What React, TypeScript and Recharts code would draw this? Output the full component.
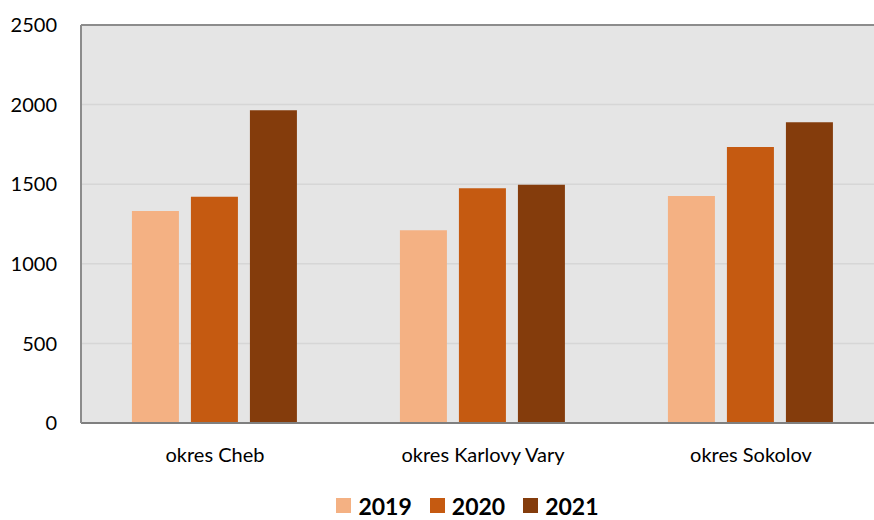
import React from 'react';
import { BarChart, Bar, XAxis, YAxis, CartesianGrid, Legend, ReferenceLine } from 'recharts';

const districts = ['okres Cheb', 'okres Karlovy Vary', 'okres Sokolov'];
const values2019 = [1332, 1210, 1426];
const values2020 = [1421, 1474, 1734];
const values2021 = [1964, 1497, 1889];
const yTicks = [0, 500, 1000, 1500, 2000, 2500];

const series = [
  { key: '2019', values: values2019, color: '#F4B183' },
  { key: '2020', values: values2020, color: '#C55A11' },
  { key: '2021', values: values2021, color: '#843C0C' },
];

const data = districts.map((name, i) => {
  const row: Record<string, string | number> = { name };
  series.forEach((s) => {
    row[s.key] = s.values[i];
  });
  return row;
});

const FONT = 'Lato, "Open Sans", sans-serif';

const renderLegend = (props: any) => {
  const { payload } = props;
  return (
    <div
      style={{
        display: 'flex',
        justifyContent: 'center',
        alignItems: 'center',
        height: 40,
        paddingLeft: 68,
        paddingTop: 11,
        boxSizing: 'border-box',
        fontFamily: FONT,
        fontWeight: 700,
        fontSize: 23,
        color: '#000',
      }}
    >
      {payload.map((entry: any) => (
        <div key={entry.value} style={{ display: 'flex', alignItems: 'center', marginRight: 18 }}>
          <span style={{ display: 'inline-block', width: 15, height: 15, background: entry.color, marginRight: 7 }} />
          <span style={{ lineHeight: '18px' }}>{entry.value}</span>
        </div>
      ))}
    </div>
  );
};

const App: React.FC = () => {
  return (
    <div style={{ position: 'fixed', left: 0, top: 0, width: 874, height: 520, overflow: 'hidden', background: '#fff' }}>
      <BarChart
        width={885}
        height={520}
        data={data}
        margin={{ top: 25, right: 0, bottom: 0, left: 0 }}
        barCategoryGap="19%"
        barGap={12}
      >
        <CartesianGrid vertical={false} fill="#E5E5E5" stroke="#D6D6D6" strokeWidth={1.5} />
        <XAxis
          dataKey="name"
          height={57}
          tickLine={false}
          tickMargin={19}
          axisLine={{ stroke: '#7F7F7F', strokeWidth: 2 }}
          tick={{ fontFamily: FONT, fontSize: 20, fill: '#000' }}
        />
        <YAxis
          width={81}
          domain={[0, 2500]}
          ticks={yTicks}
          tickLine={false}
          tickMargin={18}
          axisLine={{ stroke: '#8C8C8C', strokeWidth: 2 }}
          tick={{ fontFamily: FONT, fontSize: 20, fill: '#000' }}
        />
        <ReferenceLine y={2500} stroke="#8C8C8C" strokeWidth={2} />
        <Legend verticalAlign="bottom" content={renderLegend} />
        {series.map((s) => (
          <Bar key={s.key} dataKey={s.key} name={s.key} fill={s.color} isAnimationActive={false} />
        ))}
      </BarChart>
    </div>
  );
};

export default App;
